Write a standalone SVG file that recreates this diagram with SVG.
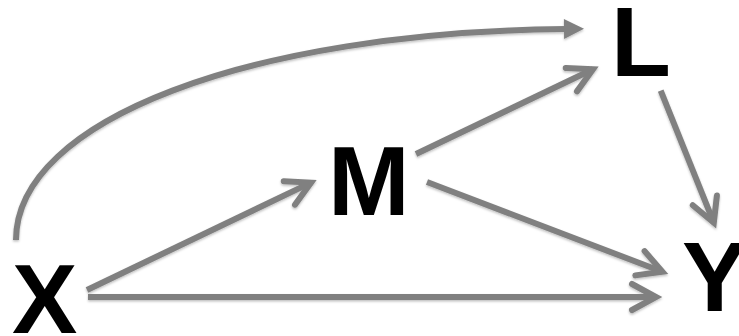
<svg xmlns="http://www.w3.org/2000/svg" width="739" height="336" viewBox="0 0 739 336">
  <style>
    .lbl { font-family: "Liberation Sans", Arial, sans-serif; font-weight: bold; font-size: 98px; fill: #000; }
    .edge { fill: none; stroke: #808080; stroke-width: 6; stroke-linecap: butt; }
  </style>
  <defs>
    <filter id="shadow" x="-10%" y="-10%" width="120%" height="130%">
      <feDropShadow dx="0" dy="1.5" stdDeviation="1" flood-color="#000" flood-opacity="0.25"/>
    </filter>
    <marker id="chev" markerUnits="userSpaceOnUse" viewBox="-40 -25 50 50" markerWidth="50" markerHeight="50" refX="0" refY="0" orient="auto" overflow="visible">
      <path d="M-24,-13 L0,0 L-24,13" fill="none" stroke="#808080" stroke-width="6" stroke-linecap="round" stroke-linejoin="miter"/>
    </marker>
    <marker id="tri" markerUnits="userSpaceOnUse" viewBox="-30 -15 40 30" markerWidth="40" markerHeight="30" refX="0" refY="0" orient="auto" overflow="visible">
      <path d="M-2,-10 L18,0 L-2,10 Z" fill="#808080"/>
    </marker>
  </defs>

  <g id="connectors" filter="url(#shadow)">
    <path id="X-L" class="edge" d="M16,240 C16,120 250,32 566,29" marker-end="url(#tri)"/>
    <path id="X-M" class="edge" d="M87,290 L311,182.6" marker-end="url(#chev)"/>
    <path id="X-Y" class="edge" d="M88,297 L656,297" marker-end="url(#chev)"/>
    <path id="M-L" class="edge" d="M416,154 L593,69.3" marker-end="url(#chev)"/>
    <path id="M-Y" class="edge" d="M427,182 L662.4,271.8" marker-end="url(#chev)"/>
    <path id="L-Y" class="edge" d="M660.7,90.7 L713.8,222.7" marker-end="url(#chev)"/>
  </g>

  <g id="node-X"><text class="lbl" x="12" y="333">X</text></g>
  <g id="node-M"><text class="lbl" x="328" y="215">M</text></g>
  <g id="node-L"><text class="lbl" x="611" y="76">L</text></g>
  <g id="node-Y"><text class="lbl" x="682" y="311">Y</text></g>
</svg>
